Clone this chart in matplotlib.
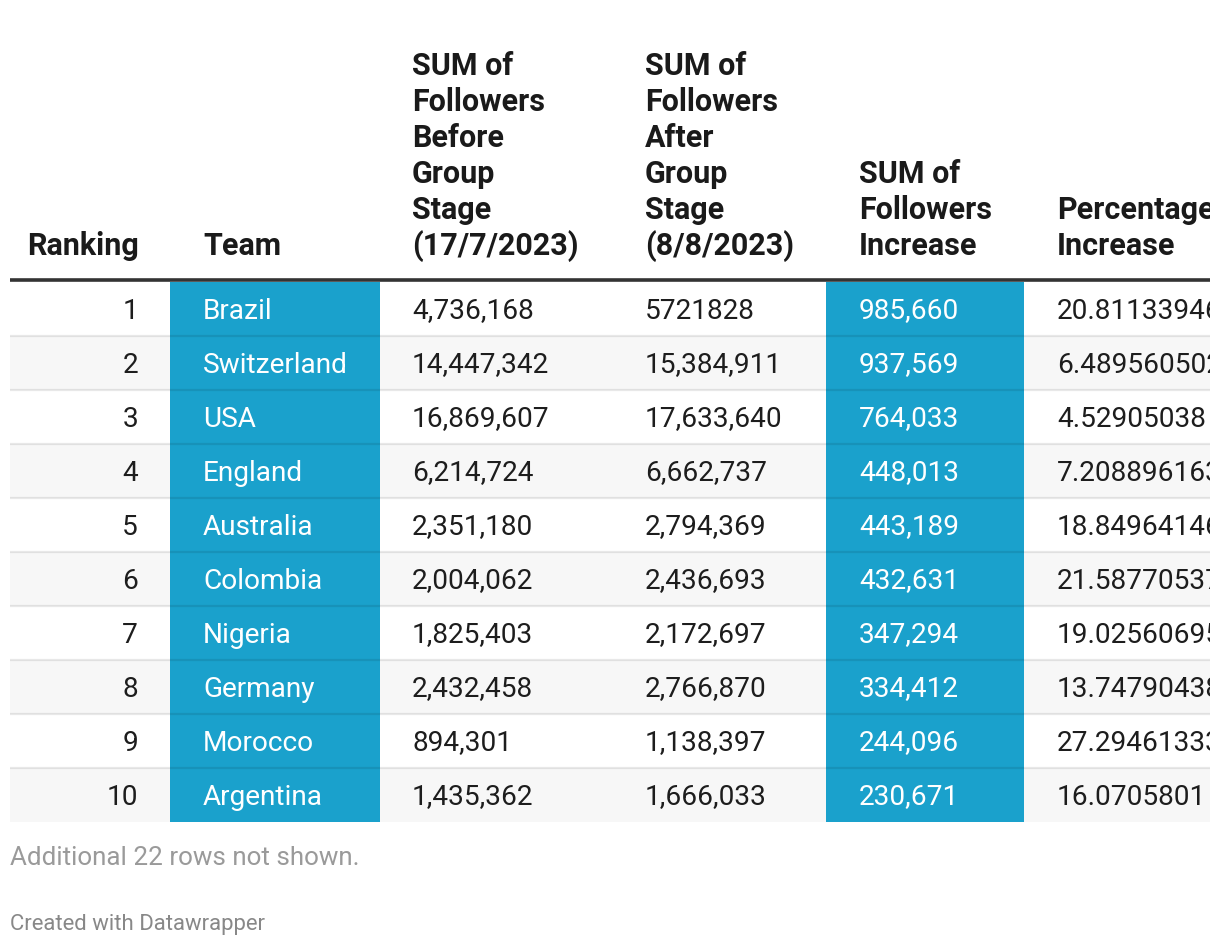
import matplotlib
matplotlib.use("Agg")
import matplotlib.pyplot as plt
from matplotlib.patches import Rectangle

# ---- data ----
rankings = [1, 2, 3, 4, 5, 6, 7, 8, 9, 10]
teams = ["Brazil", "Switzerland", "USA", "England", "Australia",
         "Colombia", "Nigeria", "Germany", "Morocco", "Argentina"]
followers_before = ["4,736,168", "14,447,342", "16,869,607", "6,214,724", "2,351,180",
                    "2,004,062", "1,825,403", "2,432,458", "894,301", "1,435,362"]
followers_after = ["5721828", "15,384,911", "17,633,640", "6,662,737", "2,794,369",
                   "2,436,693", "2,172,697", "2,766,870", "1,138,397", "1,666,033"]
followers_increase = ["985,660", "937,569", "764,033", "448,013", "443,189",
                      "432,631", "347,294", "334,412", "244,096", "230,671"]
pct_increase = ["20.81133946", "6.489560502", "4.52905038", "7.208896163", "18.84964146",
                "21.58770537", "19.02560695", "13.74790438", "27.29461333", "16.0705801"]
headers = ["Ranking", "Team", "SUM of\nFollowers\nBefore\nGroup\nStage\n(17/7/2023)",
           "SUM of\nFollowers\nAfter\nGroup\nStage\n(8/8/2023)",
           "SUM of\nFollowers\nIncrease", "Percentage\nIncrease"]
note = "Additional 22 rows not shown."
credit = "Created with Datawrapper"

# ---- layout ----
W, H = 1220, 946
fig = plt.figure(figsize=(W / 100, H / 100), dpi=100)
fig.patch.set_facecolor("white")
ax = fig.add_axes([0, 0, 1210 / W, 1])
ax.set_xlim(0, 1210)
ax.set_ylim(H, 0)
ax.axis("off")

FONT = "Roboto"
BLUE = "#1aa1cc"
TXT = "#1d1d1d"
left, right = 10, 1210
rule_y = 280
row_top0 = 282
row_h = 54
n = len(teams)

col_x = [None, 203, 412, 645, 859, 1057]   # left-aligned text positions
rank_right = 138
header_x = [27, 203, 412, 645, 859, 1057]

# row stripes
for i in range(n):
    y0 = row_top0 + i * row_h
    if i % 2 == 1:
        ax.add_patch(Rectangle((left, y0), right - left, row_h, facecolor="#f7f7f7",
                               edgecolor="none", zorder=1))

# highlighted columns
for (x0, x1) in [(170, 380), (826, 1024)]:
    ax.add_patch(Rectangle((x0, row_top0), x1 - x0, n * row_h, facecolor=BLUE,
                           edgecolor="none", zorder=2))

# row separators
for i in range(1, n):
    y = row_top0 + i * row_h
    ax.plot([left, right], [y, y], color="black", alpha=0.09, lw=1.6, zorder=3,
            solid_capstyle="butt")

# header rule
ax.plot([left, right], [rule_y, rule_y], color="#333333", lw=2.6, zorder=4,
        solid_capstyle="butt")

# headers (bottom-aligned, line by line)
hfs = 22.0
line_gap = 36
bottom_center = 243
for hx, htxt in zip(header_x, headers):
    lines = htxt.split("\n")
    for k, ln in enumerate(reversed(lines)):
        ax.text(hx, bottom_center - k * line_gap, ln, fontsize=hfs, fontfamily=FONT,
                fontweight="bold", color="#1a1a1a", ha="left", va="center_baseline",
                zorder=5, clip_on=True)

# body
bfs = 20.2
for i in range(n):
    yc = row_top0 + i * row_h + row_h / 2 - 1
    ax.text(rank_right, yc, str(rankings[i]), fontsize=bfs, fontfamily=FONT, color=TXT,
            ha="right", va="center_baseline", zorder=5, clip_on=True)
    ax.text(col_x[1], yc, teams[i], fontsize=bfs, fontfamily=FONT, color="white",
            ha="left", va="center_baseline", zorder=5, clip_on=True)
    ax.text(col_x[2], yc, followers_before[i], fontsize=bfs, fontfamily=FONT, color=TXT,
            ha="left", va="center_baseline", zorder=5, clip_on=True)
    ax.text(col_x[3], yc, followers_after[i], fontsize=bfs, fontfamily=FONT, color=TXT,
            ha="left", va="center_baseline", zorder=5, clip_on=True)
    ax.text(col_x[4], yc, followers_increase[i], fontsize=bfs, fontfamily=FONT, color="white",
            ha="left", va="center_baseline", zorder=5, clip_on=True)
    ax.text(col_x[5], yc, pct_increase[i], fontsize=bfs, fontfamily=FONT, color=TXT,
            ha="left", va="center_baseline", zorder=5, clip_on=True)

# footer
ax.text(10, 855, note, fontsize=18.7, fontfamily=FONT, color="#9a9a9a",
        ha="left", va="center_baseline")
ax.text(10, 922, credit, fontsize=15.9, fontfamily=FONT, color="#888888",
        ha="left", va="center_baseline")

fig.savefig("out.png", dpi=100, facecolor="white")
